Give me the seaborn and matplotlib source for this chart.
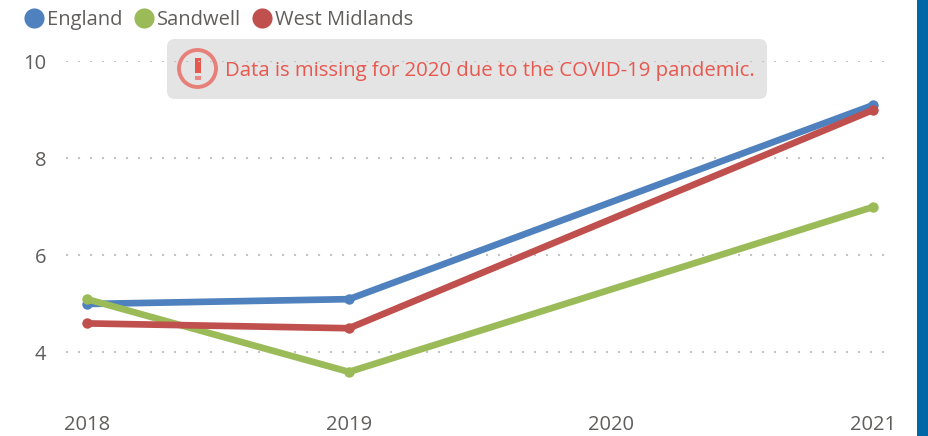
import numpy as np
import pandas as pd
import seaborn as sns
import matplotlib.pyplot as plt
from matplotlib.lines import Line2D
from matplotlib.patches import Circle, FancyBboxPatch, Rectangle

years = [2018, 2019, 2020, 2021]
england = [5.0, 5.1, np.nan, 9.1]
sandwell = [5.1, 3.6, np.nan, 7.0]
west_midlands = [4.6, 4.5, np.nan, 9.0]
y_ticks = [4, 6, 8, 10]
names = ["England", "Sandwell", "West Midlands"]
colors = ["#4E81BD", "#9BBB59", "#C0504D"]
note = "Data is missing for 2020 due to the COVID-19 pandemic."

df = pd.DataFrame({"Year": years, "England": england, "Sandwell": sandwell,
                   "West Midlands": west_midlands})
df = df.melt(id_vars="Year", var_name="Area", value_name="Value")

sns.set_theme(style="white")
plt.rcParams["font.family"] = ["Open Sans", "DejaVu Sans"]

W, H = 928, 436
text_col = "#605E5C"
fig = plt.figure(figsize=((W + 0.01) / 100, (H + 0.01) / 100), dpi=100)

# overlay in pixel coordinates for the banner, the side bar and the legend
bg = fig.add_axes([0, 0, 1, 1], zorder=0)
bg.set_xlim(0, W)
bg.set_ylim(H, 0)
bg.axis("off")
bg.add_patch(Rectangle((917, 0), 11, H, color="#0067A6", lw=0))
bg.add_patch(FancyBboxPatch((167, 39), 600, 60, boxstyle="round,pad=0,rounding_size=8",
                            fc="#E4E4E4", ec="none", lw=0))
bg.add_patch(Circle((197.5, 68.5), 18.5, fc="none", ec="#E8807A", lw=2.8))
bg.add_patch(Rectangle((194.5, 58), 6, 15, color="#E55A50", lw=0))
bg.add_patch(Rectangle((194.5, 76), 6, 4, color="#E88A83", lw=0))
bg.text(225, 71, note, color="#E8584F", fontsize=14.65, va="center", ha="left")

# main chart, placed so the ticks land on the reference pixels
px_per_year = 262
left, right = 66, 887
top, bottom = 61.5, 401
ax = fig.add_axes([left / W, 1 - bottom / H, (right - left) / W, (bottom - top) / H], zorder=1)
ax.patch.set_alpha(0)
sns.lineplot(data=df, x="Year", y="Value", hue="Area", hue_order=names, palette=colors,
             marker="o", markersize=7.5, markeredgewidth=0, linewidth=4.8, legend=False,
             errorbar=None, ax=ax, clip_on=False)
ax.set_xlim(2018 - 21 / px_per_year, 2021 + 14 / px_per_year)
ax.set_ylim(3, 10)
ax.set_xticks(years)
ax.set_yticks(y_ticks)
ax.set_xlabel("")
ax.set_ylabel("")
ax.grid(axis="y", color="#C4C4C4", lw=1.5, linestyle=(0, (1, 4.76)))
ax.set_axisbelow(True)
ax.tick_params(length=0, labelsize=14.5, labelcolor=text_col)
ax.tick_params(axis="y", pad=14)
ax.tick_params(axis="x", pad=10)
sns.despine(ax=ax, left=True, bottom=True)

# legend
handles = [Line2D([], [], marker="o", ls="", ms=14.5, mew=0, color=c) for c in colors]
fig.legend(handles, names, loc="upper left", bbox_to_anchor=(20 / W, 1 - 4 / H), ncol=3,
           frameon=False, fontsize=14.5, labelcolor=text_col, handlelength=0.8,
           handletextpad=0.25, columnspacing=0.65, borderpad=0, borderaxespad=0.3)

fig.savefig("out.png", dpi=100)
